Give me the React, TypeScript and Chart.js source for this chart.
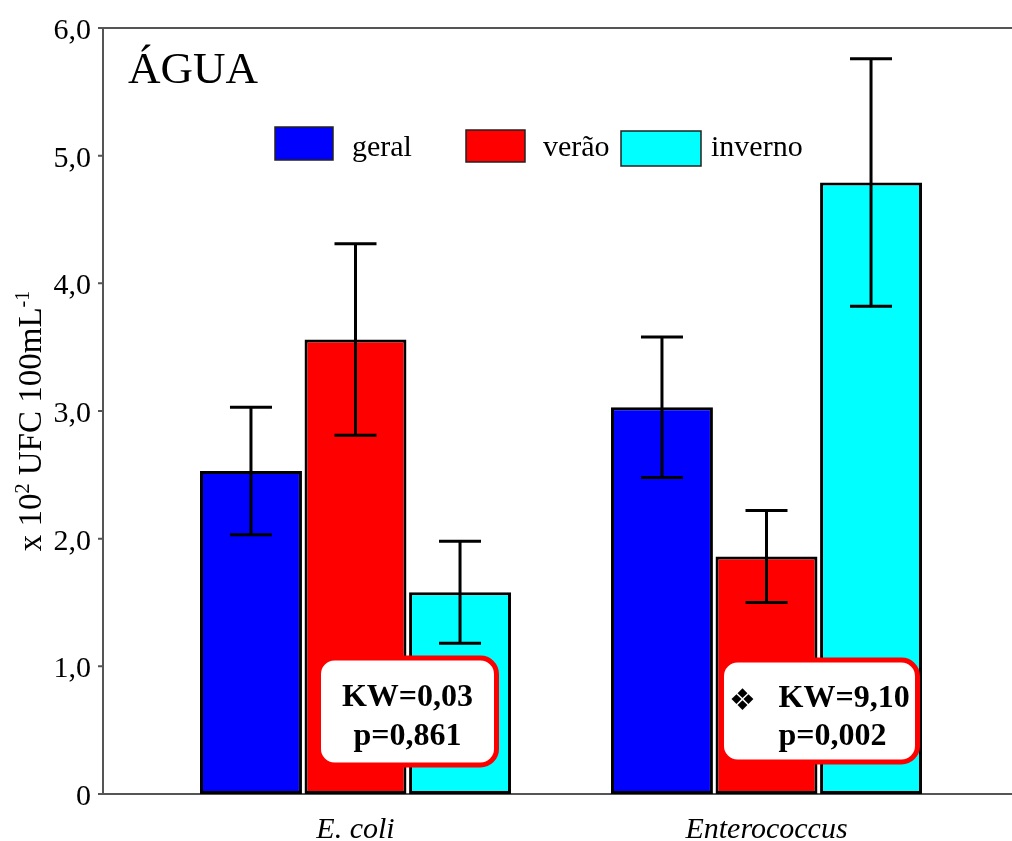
import React, { useEffect, useRef } from "react";
import { Chart, registerables } from "chart.js";

Chart.register(...registerables);

const categories = ["E. coli", "Enterococcus"];
const seriesLabels = ["geral", "verão", "inverno"];
const seriesColors = ["#0000FF", "#FF0000", "#00FFFF"];
const geralValues = [2.53, 3.03];
const geralErrors = [0.5, 0.55];
const veraoValues = [3.56, 1.86];
const veraoErrors = [0.75, 0.36];
const invernoValues = [1.58, 4.79];
const invernoErrors = [0.4, 0.97];
const yTickValues = [0, 1, 2, 3, 4, 5, 6];
const panelTitle = "ÁGUA";
// y-axis title pieces: [text, isSuperscript]
const yAxisTitleParts: [string, boolean][] = [
  ["x 10", false],
  ["2", true],
  [" UFC 100mL", false],
  ["-1", true],
];
const kwLines = [
  ["KW=0,03", "p=0,861"],
  ["KW=9,10", "p=0,002"],
];
const kwSignificant = [false, true];

const SERIF = "'Liberation Serif', 'Times New Roman', serif";

const errorSets = [geralErrors, veraoErrors, invernoErrors];

const framePlugin = {
  id: "frame",
  beforeDatasetsDraw(chart: any) {
    const { ctx, chartArea, scales } = chart;
    const y = scales.y;
    const axisX = 103;
    ctx.save();
    ctx.strokeStyle = "#555555";
    ctx.lineWidth = 2;
    ctx.beginPath();
    ctx.moveTo(axisX, chartArea.top);
    ctx.lineTo(chart.width, chartArea.top);
    ctx.moveTo(axisX, chartArea.top);
    ctx.lineTo(axisX, chartArea.bottom);
    ctx.moveTo(axisX - 5, chartArea.bottom);
    ctx.lineTo(chart.width, chartArea.bottom);
    for (const v of yTickValues) {
      const py = y.getPixelForValue(v);
      ctx.moveTo(axisX - 5, py);
      ctx.lineTo(axisX, py);
    }
    ctx.stroke();

    // panel title
    ctx.fillStyle = "#000";
    ctx.font = `45px ${SERIF}`;
    ctx.textAlign = "left";
    ctx.textBaseline = "alphabetic";
    ctx.fillText(panelTitle, axisX + 25, 83);

    // y-axis title (rotated, with superscripts)
    const mainFont = `33px ${SERIF}`;
    const supFont = `20px ${SERIF}`;
    let total = 0;
    for (const [t, sup] of yAxisTitleParts) {
      ctx.font = sup ? supFont : mainFont;
      total += ctx.measureText(t).width;
    }
    ctx.save();
    ctx.translate(41, 421);
    ctx.rotate(-Math.PI / 2);
    let cx = -total / 2;
    for (const [t, sup] of yAxisTitleParts) {
      ctx.font = sup ? supFont : mainFont;
      ctx.fillText(t, cx, sup ? -12 : 0);
      cx += ctx.measureText(t).width;
    }
    ctx.restore();

    // legend
    const items = [
      { x: 275, w: 58, top: 127, h: 33, gap: 19 },
      { x: 466, w: 59, top: 130, h: 32, gap: 18 },
      { x: 621, w: 80, top: 131, h: 35, gap: 10 },
    ];
    ctx.font = `30px ${SERIF}`;
    ctx.textBaseline = "middle";
    items.forEach((it, i) => {
      ctx.fillStyle = seriesColors[i];
      ctx.fillRect(it.x, it.top, it.w, it.h);
      ctx.strokeStyle = "#222";
      ctx.lineWidth = 1.5;
      ctx.strokeRect(it.x, it.top, it.w, it.h);
      ctx.fillStyle = "#000";
      ctx.fillText(seriesLabels[i], it.x + it.w + it.gap, 148);
    });
    ctx.restore();
  },
  afterDatasetsDraw(chart: any) {
    const { ctx, scales } = chart;
    const y = scales.y;
    const x = scales.x;
    ctx.save();
    // error bars
    ctx.strokeStyle = "#000";
    ctx.lineWidth = 3;
    chart.data.datasets.forEach((ds: any, i: number) => {
      const meta = chart.getDatasetMeta(i);
      meta.data.forEach((el: any, j: number) => {
        const v = ds.data[j];
        const e = errorSets[i][j];
        const top = y.getPixelForValue(v + e);
        const bot = y.getPixelForValue(v - e);
        ctx.beginPath();
        ctx.moveTo(el.x, top);
        ctx.lineTo(el.x, bot);
        ctx.moveTo(el.x - 21, top);
        ctx.lineTo(el.x + 21, top);
        ctx.moveTo(el.x - 21, bot);
        ctx.lineTo(el.x + 21, bot);
        ctx.stroke();
      });
    });

    // KW annotation boxes
    const boxes = [
      { dx: 52, w: 178, top: 658, h: 107 },
      { dx: 53, w: 196, top: 660, h: 102 },
    ];
    kwLines.forEach((lines, i) => {
      const b = boxes[i];
      const cx = x.getPixelForValue(i) + b.dx;
      const left = cx - b.w / 2;
      ctx.beginPath();
      ctx.roundRect(left, b.top, b.w, b.h, 16);
      ctx.fillStyle = "#fff";
      ctx.fill();
      ctx.lineWidth = 5;
      ctx.strokeStyle = "#FF0000";
      ctx.stroke();
      ctx.fillStyle = "#000";
      ctx.font = `bold 32px ${SERIF}`;
      ctx.textBaseline = "middle";
      if (kwSignificant[i]) {
        ctx.textAlign = "left";
        const tx = left + 57;
        ctx.fillText(lines[0], tx, b.top + 39);
        ctx.fillText(lines[1], tx, b.top + 77);
        ctx.font = `bold 30px 'DejaVu Sans', sans-serif`;
        ctx.textAlign = "center";
        ctx.fillText("❖", left + 21, b.top + 42);
      } else {
        ctx.textAlign = "center";
        ctx.fillText(lines[0], cx, b.top + 40);
        ctx.fillText(lines[1], cx, b.top + 79);
      }
    });
    ctx.restore();
  },
};

export default function App() {
  const ref = useRef<HTMLCanvasElement | null>(null);
  useEffect(() => {
    if (!ref.current) return;
    const mk = (label: string, data: number[], color: string) => ({
      label,
      data,
      backgroundColor: color,
      borderColor: "#000",
      borderWidth: 3,
      borderSkipped: false,
      categoryPercentage: 0.763,
      barPercentage: 0.975,
    });
    const chart = new Chart(ref.current, {
      type: "bar",
      data: {
        labels: categories,
        datasets: [
          mk(seriesLabels[0], geralValues, seriesColors[0]),
          mk(seriesLabels[1], veraoValues, seriesColors[1]),
          mk(seriesLabels[2], invernoValues, seriesColors[2]),
        ],
      },
      options: {
        animation: false,
        responsive: false,
        devicePixelRatio: 1,
        layout: { padding: { top: 28, right: 40, left: 0, bottom: 0 } },
        plugins: {
          legend: { display: false },
          tooltip: { enabled: false },
        },
        scales: {
          x: {
            grid: { display: false },
            border: { display: false },
            ticks: {
              color: "#000",
              padding: 10,
              font: { family: SERIF, size: 30, style: "italic" },
            },
            afterFit: (s: any) => {
              s.height = 47;
            },
          },
          y: {
            min: 0,
            max: 6,
            grid: { display: false },
            border: { display: false },
            afterBuildTicks: (s: any) => {
              s.ticks = yTickValues.map((v) => ({ value: v }));
            },
            ticks: {
              color: "#000",
              padding: 51,
              labelOffset: 3,
              font: { family: SERIF, size: 30 },
              callback: (v: any) =>
                Number(v) === 0 ? "0" : Number(v).toFixed(1).replace(".", ","),
            },
            afterFit: (s: any) => {
              s.width = 150;
              s.paddingTop = 0;
              s.paddingBottom = 0;
            },
          },
        },
      },
      plugins: [framePlugin],
    });
    return () => chart.destroy();
  }, []);
  return (
    <div
      style={{
        position: "absolute",
        left: 0,
        top: 0,
        width: 1012,
        height: 841,
        background: "#fff",
      }}
    >
      <canvas ref={ref} width={1012} height={841} style={{ display: "block" }} />
    </div>
  );
}
